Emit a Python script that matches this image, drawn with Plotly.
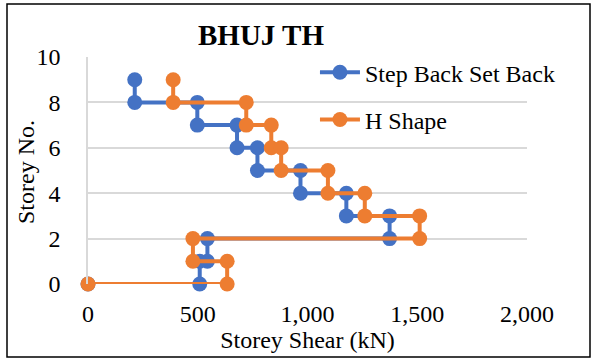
import plotly.graph_objects as go

# Storey shear profiles (kN) traced as step lines over storey levels
storey = [9, 8, 8, 7, 7, 6, 6, 5, 5, 4, 4, 3, 3, 2, 2, 1, 1, 0, 0]
shear_step_back = [213, 213, 498, 498, 679, 679, 772, 772, 968, 968,
                   1177, 1177, 1374, 1374, 544, 544, 509, 509, 0]
shear_h_shape = [388, 388, 721, 721, 835, 835, 880, 880, 1093, 1093,
                 1261, 1261, 1511, 1511, 478, 478, 634, 634, 0]

x_ticks = [0, 500, 1000, 1500, 2000]
x_tick_text = ["0", "500", "1,000", "1,500", "2,000"]
y_ticks = [0, 2, 4, 6, 8, 10]

BLUE = "#4472C4"
ORANGE = "#ED7D31"
FONT = "Liberation Serif"

fig = go.Figure()
fig.add_trace(go.Scatter(
    x=shear_step_back, y=storey, name="Step Back Set Back",
    mode="lines+markers", legendgroup="a", cliponaxis=False,
    line=dict(color=BLUE, width=4),
    marker=dict(color=BLUE, size=15),
))
fig.add_trace(go.Scatter(
    x=shear_h_shape, y=storey, name="H Shape",
    mode="lines+markers", legendgroup="b", cliponaxis=False,
    line=dict(color=ORANGE, width=4),
    marker=dict(color=ORANGE, size=15),
))

fig.update_layout(
    width=592, height=360,
    margin=dict(l=88, r=65, t=57, b=76),
    paper_bgcolor="white", plot_bgcolor="white",
    font=dict(family=FONT, size=24, color="black"),
    showlegend=True,
    legend=dict(
        x=0.517, y=1.03, xanchor="left", yanchor="top",
        bgcolor="rgba(0,0,0,0)", tracegroupgap=13,
        font=dict(family=FONT, size=24),
        itemwidth=40,
    ),
    xaxis=dict(
        range=[0, 2000], tickvals=x_ticks, ticktext=x_tick_text,
        showgrid=False, zeroline=False, showline=False,
        ticks="outside", ticklen=8, tickcolor="rgba(0,0,0,0)",
        title=dict(text="Storey Shear (kN)", standoff=4,
                   font=dict(family=FONT, size=24)),
    ),
    yaxis=dict(
        range=[0, 10], tickvals=y_ticks,
        showgrid=True, gridcolor="#D9D9D9", gridwidth=1.5,
        zeroline=False, showline=True, linecolor="#D9D9D9", linewidth=1.5,
        ticks="outside", ticklen=21, tickcolor="rgba(0,0,0,0)",
    ),
    annotations=[
        dict(text="<b>BHUJ TH</b>", xref="paper", yref="paper",
             x=(260.5 - 88) / 439, y=(284 - 35) / 227,
             xanchor="center", yanchor="middle",
             showarrow=False, font=dict(family=FONT, size=29, color="black")),
        dict(text="Storey No.", xref="paper", yref="paper",
             x=(26 - 88) / 439, y=(284 - 172) / 227,
             xanchor="center", yanchor="middle", textangle=-90,
             showarrow=False, font=dict(family=FONT, size=24, color="black")),
    ],
    shapes=[
        dict(type="rect", xref="paper", yref="paper",
             x0=(7 - 88) / 439, x1=(590 - 88) / 439,
             y0=(284 - 357) / 227, y1=(284 - 4) / 227,
             line=dict(color="black", width=1.5), fillcolor="rgba(0,0,0,0)",
             layer="below"),
    ],
)

fig.write_html("out.html")
